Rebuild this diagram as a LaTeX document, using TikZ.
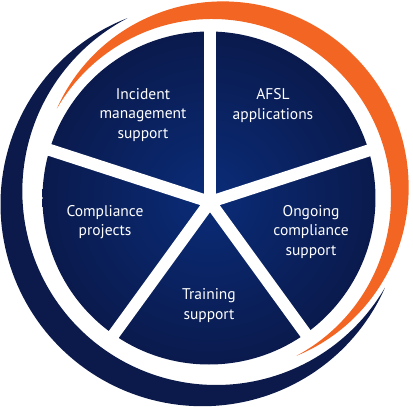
\documentclass[tikz,border=0pt]{standalone}
\usepackage{fontspec}
\setmainfont{PT Sans}
\usepackage{tikz}
\definecolor{navyring}{HTML}{0B1A4A}
\definecolor{piedark}{HTML}{0A1A4D}
\definecolor{pielight}{HTML}{0A2C78}
\definecolor{orangering}{HTML}{F26522}
\tikzset{label text/.style = {text=white, align=center, font=\fontsize{15.5}{19.5}\selectfont}}
\tikzset{gap line/.style = {white, line width=12pt}}

\begin{document}
\begin{tikzpicture}[x=1pt, y=1pt]
\useasboundingbox (-209,-209) rectangle (204,198);
% outer rings
\fill[orangering] plot[domain=149.6:-61, samples=120] (\x:{179+3*cos(\x)})
  -- plot[domain=-61:149.6, samples=120] (\x:{179+3*cos(\x)+22*cos(90*(\x-44.3)/105.3)}) -- cycle;
\fill[navyring] plot[domain=114.4:333, samples=120] (\x:{197.5-13.5*cos(90*(\x-223.7)/109.3)})
  -- plot[domain=333:114.4, samples=120] (\x:{197.5+13.5*cos(90*(\x-223.7)/109.3)}) -- cycle;
% pie
\shade[inner color=pielight, outer color=piedark] (0,0) circle (166.5);
\coordinate (hub) at (1,-4);
\foreach \a in {90,18,-54,-126,162}
  \draw[gap line] (hub) -- ++(\a:174);
\node[label text] (incident) at (-66,83) {Incident\\management\\support};
\node[label text] (afsl) at (64,92.5) {AFSL\\applications};
\node[label text] (projects) at (-104,-24) {Compliance\\projects};
\node[label text] (ongoing) at (102,-34) {Ongoing\\compliance\\support};
\node[label text] (training) at (0,-107.5) {Training\\support};
\end{tikzpicture}
\end{document}
